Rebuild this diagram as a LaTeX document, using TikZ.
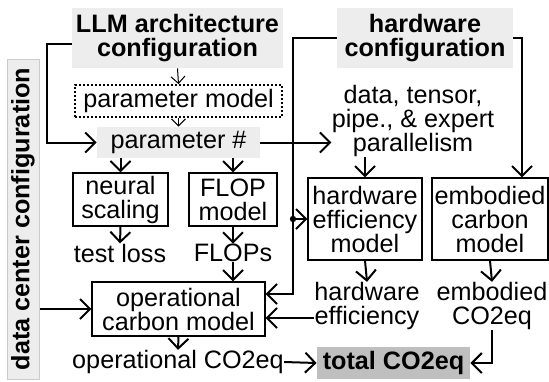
\documentclass[tikz,border=0pt]{standalone}
\usepackage{fontspec}
\setmainfont{Liberation Sans}
\usetikzlibrary{arrows.meta}
\newcommand{\diagfont}{\fontsize{12.6}{12}\selectfont}

\begin{document}
\begin{tikzpicture}[x=0.5pt, y=-0.5pt,
  every node/.style={font=\diagfont, align=center, inner sep=0pt},
  box/.style={draw, line width=0.6pt},
  graybox/.style={fill=black!7, font=\diagfont\bfseries},
  dotbox/.style={draw, line width=0.9pt, dash pattern=on 1pt off 1pt},
  arr/.style={line width=1pt, -{Straight Barb[length=5pt,width=10pt]}},
  thinarr/.style={line width=0.5pt, -{Straight Barb[length=3.5pt,width=7pt]}}]
\useasboundingbox (0,0) rectangle (549,381);

% Configuration boxes
\node[graybox, minimum width=105.5pt, minimum height=30pt] (llm) at (177.5,38) {LLM architecture\\configuration};
\node[graybox, minimum width=88pt, minimum height=30pt] (hw) at (425,38) {hardware\\configuration};
\node[graybox, draw=black!20, line width=0.5pt, rotate=90, minimum width=160pt, minimum height=16pt] (dc) at (23,219) {data center configuration};

% Parameter model and count
\node[dotbox, minimum width=103.5pt, minimum height=16pt] (pmodel) at (178.5,101) {parameter model};
\node[fill=black!7, minimum width=81.5pt, minimum height=15.5pt] (pnum) at (178.5,142.5) {parameter \#};
\node (par) at (413,121) {data, tensor,\\pipe., \& expert\\parallelism};

% Models
\node[box, minimum width=47.5pt, minimum height=26.5pt] (ns) at (120.5,199.5) {neural\\scaling};
\node[box, minimum width=44pt, minimum height=26.5pt] (flop) at (233,199.5) {FLOP\\model};
\node[box, minimum width=57pt, minimum height=41pt] (hwe) at (365,219) {hardware\\efficiency\\model};
\node[box, minimum width=58pt, minimum height=41pt] (emb) at (490,219) {embodied\\carbon\\model};
\node[box, minimum width=86.5pt, minimum height=27pt] (op) at (178.5,309) {operational\\carbon model};

% Outputs
\node (loss) at (120,253) {test loss};
\node (flops) at (233,253) {FLOPs};
\node (hweo) at (367,306) {hardware\\efficiency};
\node (embo) at (492,306) {embodied\\CO2eq};
\node (opo) at (178,362) {operational CO2eq};
\node[fill=black!25, font=\diagfont\bfseries, minimum width=76.5pt, minimum height=16pt] (total) at (393.5,363) {total CO2eq};

% Arrows
\draw[thinarr] (llm.south) -- (pmodel.north);
\draw[thinarr] (pmodel.south) -- (pnum.north);
\draw[arr] ([yshift=-3pt]llm.west) -- ++(-12.5pt,0) |- (pnum.west);
\draw[arr] (pnum.east) -- (pnum.east -| par.west);
\draw[arr] (pnum.south -| ns.north) -- (ns.north);
\draw[arr] (pnum.south -| flop.north) -- (flop.north);
\draw[arr] (ns.south) -- (loss.north);
\draw[arr] (flop.south) -- (flops.north);
\draw[arr] (flops.south) -- (flops.south |- op.north);

\coordinate (tap) at (293,219);
\draw[arr] (hw.west) -| (tap) |- ([yshift=7.5pt]op.east);
\draw[arr] (tap) -- (hwe.west);
\fill (tap) circle (1.6pt);
\draw[arr] (hw.east) -| ([xshift=16pt]emb.north);
\draw[arr] (par.south -| hwe.north) -- (hwe.north);
\draw[arr] (hwe.south) -- (hweo.north);
\draw[arr] (emb.south) -- (embo.north);
\draw[arr] ([yshift=-6pt]hweo.west) -- ([yshift=-6pt]hweo.west -| op.east);

\draw[arr] (dc.south |- op.west) -- (op.west);
\draw[arr] (op.south) -- (opo.north);
\draw[arr] (opo.east) -- (total.west);
\draw[arr] (embo.south) |- (total.east);
\end{tikzpicture}
\end{document}
